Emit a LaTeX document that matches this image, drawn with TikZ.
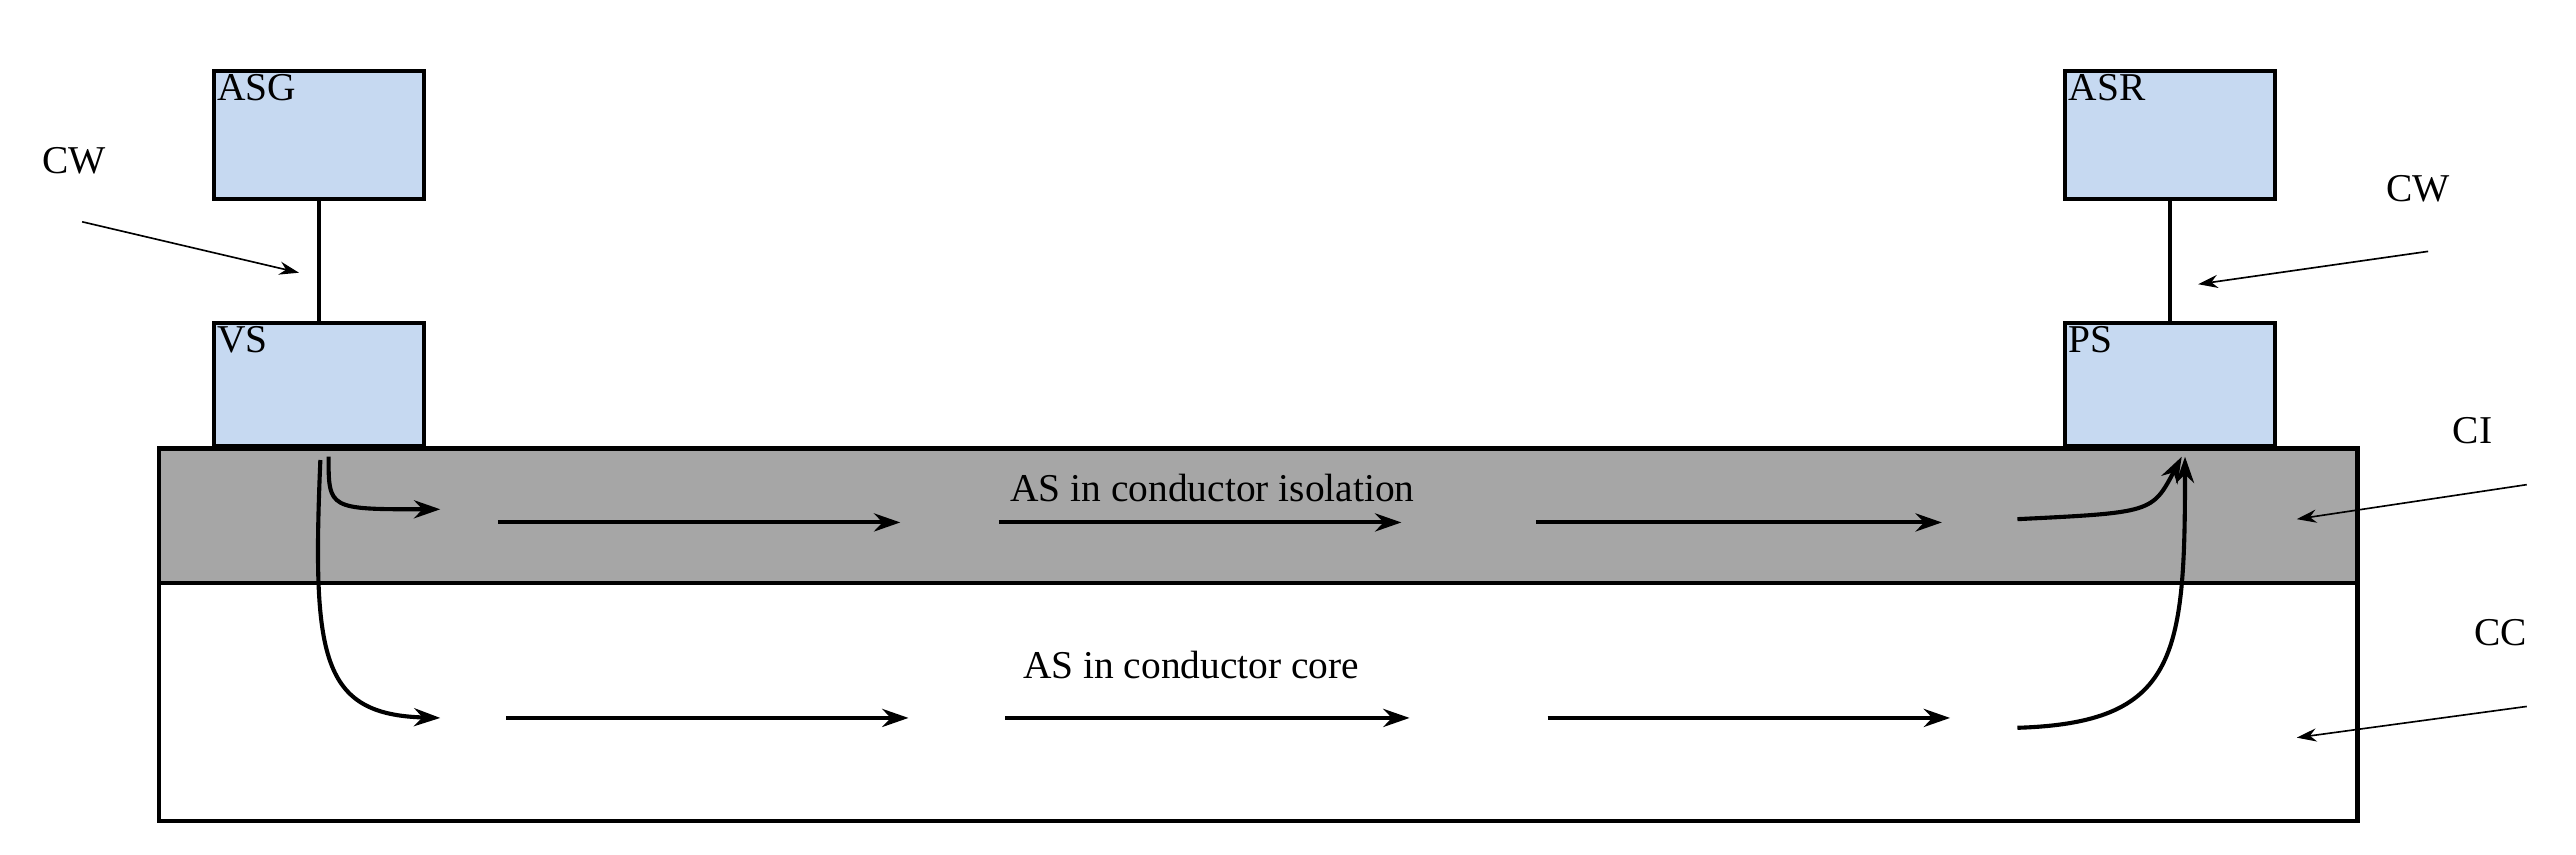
\documentclass[tikz,border=0pt]{standalone}
\usepackage{fontspec}
\setmainfont{Liberation Serif}
\usetikzlibrary{arrows.meta}
\definecolor{boxblue}{HTML}{C6D9F1}
\definecolor{band}{HTML}{A6A6A6}
\begin{document}
\begin{tikzpicture}[x=1pt,y=-1pt,
  box/.style={draw,line width=2.5pt,fill=boxblue,minimum width=128pt,minimum height=78pt,inner sep=0pt},
  lbl/.style={font=\fontsize{24}{28}\selectfont},
  flow/.style={line width=2.5pt,-{Stealth[length=16pt,width=11pt]}},
  ptr/.style={line width=1pt,-{Stealth[length=12pt,width=8pt]}}]
\useasboundingbox (0,0) rectangle (1568,520);
\draw[line width=2.5pt,fill=white] (97,355) rectangle (1435,500);
\draw[line width=2.5pt,fill=band] (97,273) rectangle (1435,355);
\node[box] (asg) at (194,82) {};
\node[lbl,anchor=north west] at (asg.north west) {ASG};
\node[box,minimum height=75pt] (vs) at (194,234) {};
\node[lbl,anchor=north west] at (vs.north west) {VS};
\node[box] (asr) at (1321,82) {};
\node[lbl,anchor=north west] at (asr.north west) {ASR};
\node[box,minimum height=75pt] (ps) at (1321,234) {};
\node[lbl,anchor=north west] at (ps.north west) {PS};
\draw[line width=2.5pt] (asg) -- (vs);
\draw[line width=2.5pt] (asr) -- (ps);
\node[lbl] (cw1) at (45,98) {CW};
\coordinate (cw1s) at (50,135); \coordinate (cw1e) at (182,166);
\draw[ptr] (cw1s) -- (cw1e);
\node[lbl] (cw2) at (1472,115) {CW};
\coordinate (cw2s) at (1478,153); \coordinate (cw2e) at (1338,173);
\draw[ptr] (cw2s) -- (cw2e);
\node[lbl] (ci) at (1505,262) {CI};
\coordinate (cis) at (1538,295); \coordinate (cie) at (1398,316);
\draw[ptr] (cis) -- (cie);
\node[lbl] (cc) at (1522,385) {CC};
\coordinate (ccs) at (1538,430); \coordinate (cce) at (1398,449);
\draw[ptr] (ccs) -- (cce);
\node[lbl] (ti) at (738,297) {AS in conductor isolation};
\node[lbl] (tc) at (725,405) {AS in conductor core};
\foreach \a/\b in {303/548,608/853,935/1182} \draw[flow] (\a,318) -- (\b,318);
\foreach \a/\b in {308/553,612/858,942/1187} \draw[flow] (\a,437) -- (\b,437);
\coordinate (s1) at (200,278); \coordinate (e1) at (268,310);
\draw[flow] (s1) .. controls (200,310) .. (e1);
\coordinate (s2) at (195,280); \coordinate (e2) at (268,437);
\draw[flow] (s2) .. controls (190,400) and (195,435) .. (e2);
\coordinate (s3) at (1228,316); \coordinate (e3) at (1328,278);
\draw[flow] (s3) .. controls (1310,312) .. (e3);
\coordinate (s4) at (1228,443); \coordinate (e4) at (1330,278);
\draw[flow] (s4) .. controls (1325,440) and (1330,400) .. (e4);
\end{tikzpicture}
\end{document}
